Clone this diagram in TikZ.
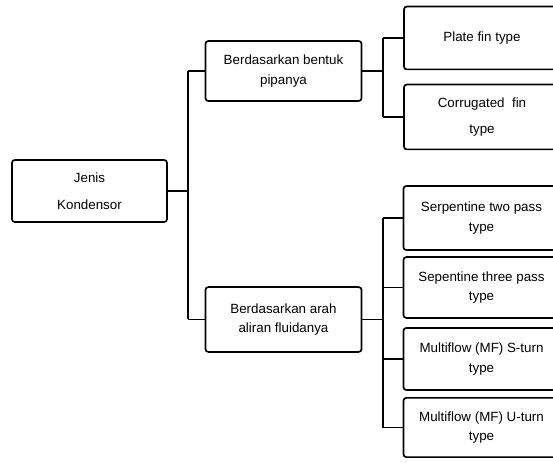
\documentclass[tikz,border=0pt]{standalone}
\usepackage{fontspec}
\setmainfont{Liberation Sans}
\usepackage{tikz}

\tikzset{
  kotak/.style={draw=black, line width=1.2pt, rounded corners=2pt, fill=white, align=center,
    font=\fontsize{9.5}{14}\selectfont, minimum width=3.9cm, minimum height=1.55cm, inner sep=2pt},
  garis/.style={line width=1.2pt}
}

\begin{document}
\begin{tikzpicture}[x=0.025cm, y=-0.025cm]
\useasboundingbox (0,0) rectangle (553,465);
\clip (0,0) rectangle (553,465);

% kotak utama
\node[kotak, minimum width=3.875cm] (jenis) at (89.5,191) {Jenis\\[5pt]Kondensor};

% cabang tengah
\node[kotak, minimum height=1.5cm] (bentuk) at (283.5,71) {Berdasarkan bentuk\\pipanya};
\node[kotak, minimum height=1.62cm] (arah) at (283.5,319.5) {Berdasarkan arah\\aliran fluidanya};

% cabang kanan
\node[kotak, minimum height=1.57cm] (plate) at (482,38) {Plate fin type};
\node[kotak, minimum height=1.62cm] (corr) at (482,117) {Corrugated\ \ fin\\[4pt]type};
\node[kotak, minimum height=1.6cm] (serp2) at (481.5,218) {Serpentine two pass\\type};
\node[kotak, minimum height=1.52cm] (serp3) at (481.5,287.5) {Sepentine three pass\\type};
\node[kotak, minimum height=1.55cm] (mfs) at (481.5,359) {Multiflow (MF) S-turn\\type};
\node[kotak, minimum height=1.48cm] (mfu) at (481.5,427.5) {Multiflow (MF) U-turn\\type};

\coordinate (t1) at (188,0);
\coordinate (t2) at (383,0);

%\draw[garis] (jenis.east) -- (bentuk.west);
\draw[garis] (jenis.east) -- (jenis.east -| t1);
\draw[garis] (t1 |- bentuk.west) -- (t1 |- arah.west);
\draw[garis] (t1 |- bentuk.west) -- (bentuk.west);
\draw[garis] (t1 |- arah.west) -- (arah.west);

\draw[garis] (bentuk.east) -- (bentuk.east -| t2);
\draw[garis] (t2 |- plate.west) -- (t2 |- corr.west);
\draw[garis] (t2 |- plate.west) -- (plate.west);
\draw[garis] (t2 |- corr.west) -- (corr.west);

\draw[garis] (arah.east) -- (arah.east -| t2);
\draw[garis] (t2 |- serp2.west) -- (t2 |- mfu.west);
\foreach \n in {serp2, serp3, mfs, mfu}
  \draw[garis] (t2 |- \n.west) -- (\n.west);
\end{tikzpicture}
\end{document}
